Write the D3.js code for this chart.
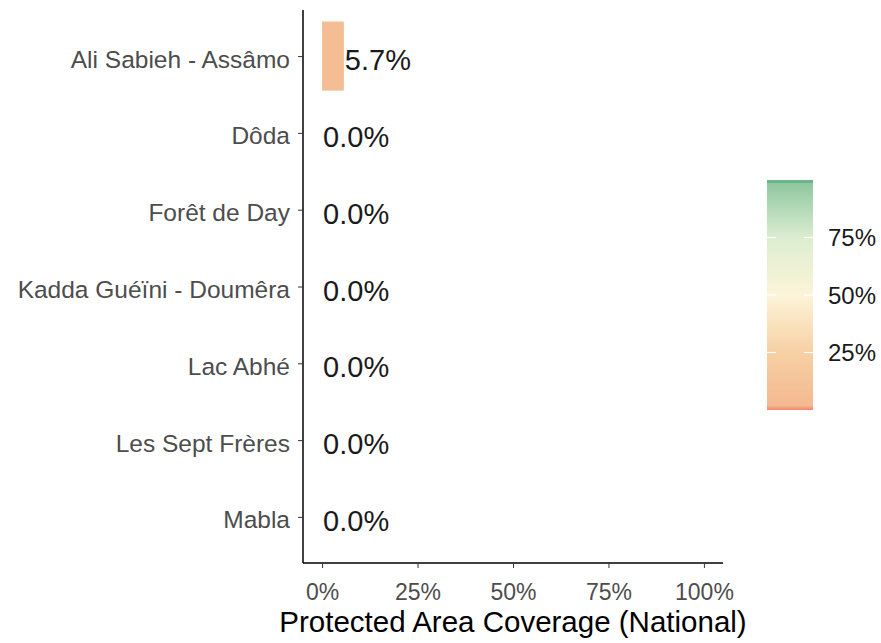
<!DOCTYPE html>
<html>
<head>
<meta charset="utf-8">
<script src="https://cdn.jsdelivr.net/npm/d3@7"></script>
<style>
  body { margin: 0; background: #fff; }
  text { font-family: "Liberation Sans", Arial, sans-serif; }
</style>
</head>
<body>
<div id="chart"></div>
<script>
// Data
const sites = ["Ali Sabieh - Assâmo", "Dôda", "Forêt de Day", "Kadda Guéïni - Doumêra",
               "Lac Abhé", "Les Sept Frères", "Mabla"];
const coverage = [5.7, 0, 0, 0, 0, 0, 0];
const xTicks = [0, 25, 50, 75, 100];
const legendTicks = [25, 50, 75];

function main() {
    const width = 881, height = 643;
    const plot = {left: 303, right: 723, top: 10, bottom: 563};

    const svg = d3.select("#chart")
        .append("svg")
        .attr("width", width)
        .attr("height", height);

    // Scales
    const x = d3.scaleLinear()
        .domain([-5, 105])
        .range([plot.left, plot.right]);

    const y = d3.scalePoint()
        .domain(sites)
        .range([plot.top, plot.bottom])
        .padding(0.6);

    const bandH = y.step() * 0.9;

    const color = d3.scaleLinear()
        .domain([0, 2, 25, 50, 75, 100])
        .range(["#f4846e", "#f4b990", "#f7d0a4", "#fcf4d8", "#dcedd0", "#8ac59c"]);

    // Bars
    svg.append("g")
        .selectAll("rect")
        .data(coverage)
        .join("rect")
        .attr("x", x(0))
        .attr("y", (d, i) => y(sites[i]) - bandH / 2)
        .attr("width", d => x(d) - x(0))
        .attr("height", bandH)
        .attr("fill", d => color(d));

    // Value labels
    svg.append("g")
        .selectAll("text")
        .data(coverage)
        .join("text")
        .attr("x", d => x(d) + 1)
        .attr("y", (d, i) => y(sites[i]) + 14)
        .style("font-size", "29px")
        .attr("fill", "#1a1a1a")
        .text(d => d.toFixed(1) + "%");

    // Y axis
    const yAxis = svg.append("g")
        .attr("transform", `translate(${plot.left},0)`)
        .call(d3.axisLeft(y).tickSize(5).tickPadding(8));
    yAxis.select(".domain").attr("stroke", "#000").attr("stroke-width", 1.5)
        .attr("d", `M0,${plot.top}V${plot.bottom}`);
    yAxis.selectAll(".tick line").attr("stroke", "#333");
    yAxis.selectAll(".tick text")
        .attr("dy", null)
        .attr("y", 11)
        .style("font-size", "24.5px")
        .style("font-family", "'Liberation Sans', Arial, sans-serif")
        .attr("fill", "#4d4d4d");

    // X axis
    const xAxis = svg.append("g")
        .attr("transform", `translate(0,${plot.bottom})`)
        .call(d3.axisBottom(x).tickValues(xTicks).tickFormat(d => d + "%").tickSize(5).tickPadding(8));
    xAxis.select(".domain").attr("stroke", "#000").attr("stroke-width", 1.5)
        .attr("d", `M${plot.left},0H${plot.right}`);
    xAxis.selectAll(".tick line").attr("stroke", "#333");
    xAxis.selectAll(".tick text")
        .attr("dy", null)
        .attr("y", 37)
        .style("font-size", "23px")
        .style("font-family", "'Liberation Sans', Arial, sans-serif")
        .attr("fill", "#4d4d4d");

    // X axis title
    svg.append("text")
        .attr("x", x(50))
        .attr("y", 632)
        .attr("text-anchor", "middle")
        .style("font-size", "29.5px")
        .attr("fill", "#000")
        .text("Protected Area Coverage (National)");

    // Colour legend
    const leg = {x: 767, w: 46, top: 180, bottom: 410};
    const ly = d3.scaleLinear().domain([0, 100]).range([leg.bottom, leg.top]);

    const defs = svg.append("defs");
    const grad = defs.append("linearGradient")
        .attr("id", "legendGrad")
        .attr("x1", 0).attr("y1", 1).attr("x2", 0).attr("y2", 0);
    grad.selectAll("stop")
        .data(d3.range(0, 101, 2))
        .join("stop")
        .attr("offset", d => d + "%")
        .attr("stop-color", d => color(d));

    svg.append("rect")
        .attr("x", leg.x)
        .attr("y", leg.top)
        .attr("width", leg.w)
        .attr("height", leg.bottom - leg.top)
        .attr("fill", "url(#legendGrad)");

    // darker cap at the top end of the bar
    svg.append("rect")
        .attr("x", leg.x)
        .attr("y", leg.top)
        .attr("width", leg.w)
        .attr("height", 3)
        .attr("fill", "#6db48a");

    const legTicks = svg.append("g");
    legTicks.selectAll("line.l")
        .data(legendTicks)
        .join("line")
        .attr("x1", leg.x).attr("x2", leg.x + 9)
        .attr("y1", d => ly(d)).attr("y2", d => ly(d))
        .attr("stroke", "#fff").attr("stroke-width", 1.2);
    legTicks.selectAll("line.r")
        .data(legendTicks)
        .join("line")
        .attr("x1", leg.x + leg.w - 9).attr("x2", leg.x + leg.w)
        .attr("y1", d => ly(d)).attr("y2", d => ly(d))
        .attr("stroke", "#fff").attr("stroke-width", 1.2);
    legTicks.selectAll("text")
        .data(legendTicks)
        .join("text")
        .attr("x", 828)
        .attr("y", d => ly(d) + 8.5)
        .style("font-size", "24px")
        .attr("fill", "#1a1a1a")
        .text(d => d + "%");
}

main();
</script>
</body>
</html>
